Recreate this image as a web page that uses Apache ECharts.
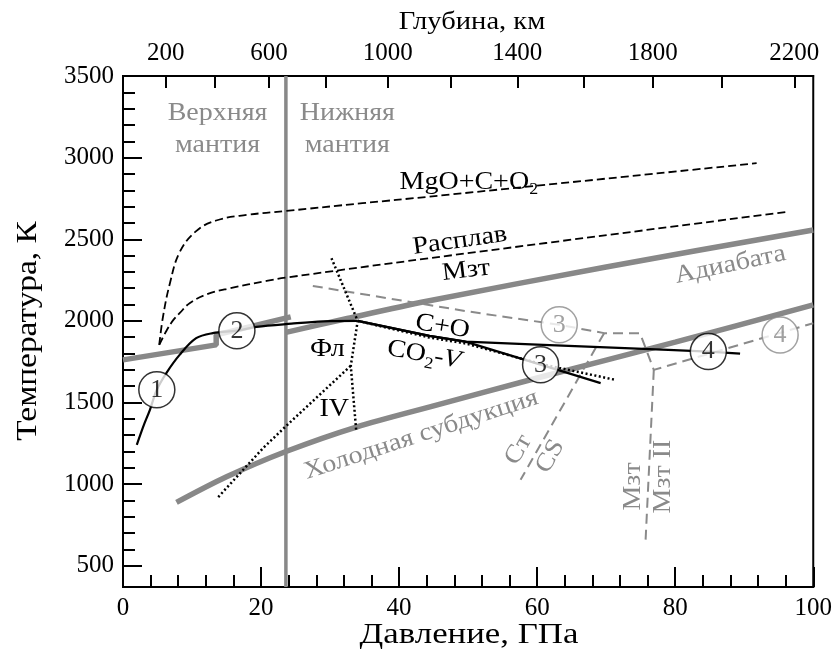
<!DOCTYPE html>
<html><head><meta charset="utf-8">
<script src="https://cdn.jsdelivr.net/npm/echarts@6/dist/echarts.min.js"></script>
<style>html,body{margin:0;padding:0;background:#fff}#c{width:835px;height:655px}</style>
</head><body><div id="c"></div>
<script>
// ---- axis ticks ----
const tempLabels = [500,1000,1500,2000,2500,3000,3500];
const tempMinor = [600,700,800,900,1100,1200,1300,1400,1600,1700,1800,1900,2100,2200,2300,2400,2600,2700,2800,2900,3100,3200,3300,3400];
const depthTicksKm = [200,400,600,800,1000,1200,1400,1600,1800,2000,2200];
const depthTickP   = [6.21,13.29,21.14,29.44,38.34,47.50,57.12,66.76,76.73,86.75,97.25];
const depthLabelKm = [200,600,1000,1400,1800,2200];

// ---- curves (pressure GPa, temperature K) ----
const mantleBoundary = [[23.6,370],[23.6,3500]];
const adiabatUpper = [[0,1761],[13.5,1853],[13.5,1914],[24.3,2025]];
const adiabatLower = [[23.6,1930],[32,2010],[44,2120],[70,2330],[100,2557]];
const coldSubduction = [[7.75,888],[15,1045],[23.6,1200],[33.8,1350],[45,1480],[60,1650],[80,1870],[100,2098]];
const meltMgO = [[5.25,1853],[5.8,2027],[6.8,2231],[8.2,2420],[10.6,2550],[13.5,2615],[17.9,2649],[23.6,2673],[34.7,2721],[44.4,2761],[91.8,2966]];
const meltMzt = [[5.25,1853],[6.3,1940],[7.3,2006],[8.2,2047],[9.7,2110],[12.3,2165],[15.5,2200],[20.8,2245],[23.6,2265],[44.4,2384],[96.4,2669]];
const pathMain = [[2.0,1241],[3.0,1360],[3.9,1455],[4.9,1578],[6.3,1682],[8.2,1792],[10.6,1894],[13.0,1925],[16.5,1940],[19.3,1963],[24.4,1983],[29,1997],[34,2000]];
const branchCO = [[34,2000],[44.4,1908],[49.6,1873],[60,1855],[70,1838],[79,1822],[84.8,1812],[89.4,1800]];
const branchCO2V = [[34,2000],[44.4,1908],[49.6,1873],[60.5,1732],[69.2,1619]];
const dotUpper = [[30.2,2384],[34.0,2000],[33.0,1725],[33.8,1320]];
const dotDiag = [[13.8,921],[20.3,1221],[24.1,1375],[33.0,1725]];
const dotAlong = [[34.0,2000],[44.4,1898],[49.6,1862],[60.5,1737],[63.2,1712],[71.3,1639]];
const phase3 = [[27.5,2214],[50.1,2057],[63.2,1976],[69.7,1925],[74.9,1925],[76.9,1700],[100,1986]];
const phaseStCS = [[69.7,1925],[57.6,1027]];
const phaseMzt = [[76.9,1700],[75.7,649]];
const circlesBlack = [[4.9,1578,'1'],[16.5,1939,'2'],[60.5,1731,'3'],[84.8,1812,'4']];
const circlesGray = [[63.2,1976,'3'],[95.2,1914,'4']];

// ---- annotations ----
const GRAY = '#8a8a8a';
const notes = [
  {t:'Верхняя\nмантия', p:13.7, T:3175, r:0, c:GRAY},
  {t:'Нижняя\nмантия', p:32.5, T:3175, r:0, c:GRAY},
  {t:'MgO+C+O{s|2}', p:50.1, T:2851, r:0, c:'#000'},
  {t:'Расплав', p:48.8, T:2490, r:8, c:'#000'},
  {t:'Мзт', p:49.7, T:2308, r:7, c:'#000'},
  {t:'Адиабата', p:88, T:2343, r:12, c:GRAY},
  {t:'C+O', p:46.3, T:1965, r:-9, c:'#000'},
  {t:'CO{s|2}-{i|V}', p:43.6, T:1792, r:-10, c:'#000'},
  {t:'Фл', p:29.6, T:1823, r:0, c:'#000'},
  {t:'IV', p:30.6, T:1455, r:0, c:'#000'},
  {t:'Холодная субдукция', p:43.2, T:1302, r:18, c:GRAY},
  {t:'Ст', p:57.3, T:1210, r:60, c:GRAY},
  {t:'CS', p:61.9, T:1170, r:60, c:GRAY},
  {t:'Мзт', p:74, T:986, r:90, c:GRAY},
  {t:'Мзт II', p:78.3, T:1047, r:90, c:GRAY}
];

const FONT = "'Liberation Serif','DejaVu Serif',serif";
const FS = 25;
const SX = 1.12;
const chart = echarts.init(document.getElementById('c'), null, {renderer:'canvas'});

function line(data, color, width, type, smooth, z) {
  return {type:'line', data:data, symbol:'none', smooth:smooth||false, silent:true, z:z||2,
    lineStyle:{color:color, width:width, type:type||'solid', cap:'butt'}, animation:false};
}
const axisText = {color:'#000', fontSize:FS, fontFamily:FONT};
const axisLineStyle = {lineStyle:{color:'#000', width:2}};

const option = {
  animation:false,
  backgroundColor:'#fff',
  grid:{left:123, right:20, top:76, bottom:68, show:true, borderColor:'#000', borderWidth:2},
  graphic:[
    {type:'text', x:469, y:635, scaleX:1.2, silent:true,
      style:{text:'Давление, ГПа', font:'29px '+FONT, fill:'#000', align:'center', verticalAlign:'middle'}},
    {type:'text', x:28, y:331, rotation:Math.PI/2, scaleX:1.15, silent:true,
      style:{text:'Температура, К', font:'29px '+FONT, fill:'#000', align:'center', verticalAlign:'middle'}},
    {type:'text', x:472, y:22, scaleX:1.1, silent:true,
      style:{text:'Глубина, км', font:'26px '+FONT, fill:'#000', align:'center', verticalAlign:'middle'}}
  ],
  xAxis:[
    {type:'value', position:'bottom', min:0, max:100, interval:20,
      axisLine:axisLineStyle, splitLine:{show:false},
      axisTick:{inside:true, length:20, lineStyle:{color:'#000', width:2}},
      minorTick:{show:true, splitNumber:5, length:12, lineStyle:{color:'#000', width:2}},
      axisLabel:Object.assign({margin:9, formatter:v=>String(v)}, axisText)},
    {type:'value', position:'top', min:0, max:100,
      axisLine:axisLineStyle, splitLine:{show:false},
      axisTick:{inside:true, length:12, customValues:depthTickP, lineStyle:{color:'#000', width:2}},
      axisLabel:Object.assign({margin:10, customValues:depthLabelKm.map(km=>depthTickP[depthTicksKm.indexOf(km)]),
        formatter:function(v){let best=0,d=1e9;depthTickP.forEach((p,i)=>{if(Math.abs(p-v)<d){d=Math.abs(p-v);best=i;}});return String(depthTicksKm[best]);}}, axisText)}
  ],
  yAxis:[
    {type:'value', min:370, max:3500,
      axisLine:axisLineStyle, splitLine:{show:false},
      axisTick:{inside:true, length:19, customValues:tempLabels, lineStyle:{color:'#000', width:2}},
      axisLabel:Object.assign({margin:9, customValues:tempLabels, formatter:v=>String(v)}, axisText)},
    {type:'value', min:370, max:3500, position:'left',
      axisLine:{show:false}, splitLine:{show:false}, axisLabel:{show:false},
      axisTick:{inside:true, length:12, customValues:tempMinor, lineStyle:{color:'#000', width:2}}}
  ],
  series:[
    line(mantleBoundary, '#888', 3.5, 'solid', false, 1),
    line(adiabatUpper, '#888', 5.5, 'solid', false, 1),
    line(adiabatLower, '#888', 5.5, 'solid', 0.3, 1),
    line(coldSubduction, '#888', 5.5, 'solid', 0.3, 1),
    line(phase3, '#8a8a8a', 2, [10,6], false, 2),
    line(phaseStCS, '#8a8a8a', 2, [10,6], false, 2),
    line(phaseMzt, '#8a8a8a', 2, [10,6], false, 2),
    line(meltMgO, '#000', 1.8, [8,4], 0.4, 3),
    line(meltMzt, '#000', 1.8, [8,4], 0.4, 3),
    line(dotUpper, '#000', 2.5, [2,2.5], false, 3),
    line(dotDiag, '#000', 2.5, [2,2.5], false, 3),
    line(dotAlong, '#000', 2.5, [2,2.5], false, 3),
    line(pathMain, '#000', 2.2, 'solid', 0.35, 4),
    line(branchCO, '#000', 2.2, 'solid', false, 4),
    line(branchCO2V, '#000', 2.2, 'solid', false, 4),
    {type:'scatter', data:circlesGray.map(d=>[d[0],d[1],d[2]]), symbol:'circle', symbolSize:36, z:5, silent:true,
      itemStyle:{color:'#fff', borderColor:'#8a8a8a', borderWidth:1.5},
      label:{show:true, position:'inside', formatter:p=>p.value[2], color:'#8a8a8a', fontSize:26, fontFamily:FONT}},
    {type:'scatter', data:circlesBlack.map(d=>[d[0],d[1],d[2]]), symbol:'circle', symbolSize:36, z:6, silent:true,
      itemStyle:{color:'#fff', borderColor:'#000', borderWidth:1.5},
      label:{show:true, position:'inside', formatter:p=>p.value[2], color:'#000', fontSize:26, fontFamily:FONT}},
    {type:'custom', z:7, silent:true, data:notes.map(n=>[n.p,n.T]),
      renderItem:function(params, api){
        const n = notes[params.dataIndex];
        const pt = api.coord([api.value(0), api.value(1)]);
        return {type:'text', x:pt[0], y:pt[1], rotation:n.r*Math.PI/180, scaleX:SX,
          style:{text:n.t, fill:n.c, font:FS+'px '+FONT, align:'center', verticalAlign:'middle', lineHeight:32,
            rich:{s:{fontSize:16, fontFamily:FONT, fill:n.c, verticalAlign:'bottom', lineHeight:14},
                  i:{fontSize:FS, fontFamily:FONT, fill:n.c, fontStyle:'italic'}}}};
      }}
  ]
};
chart.setOption(option);
</script>
</body></html>
